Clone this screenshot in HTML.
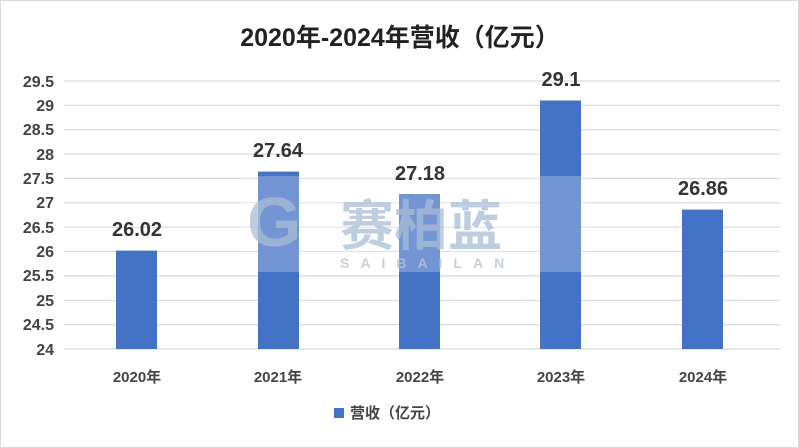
<!DOCTYPE html><html><head><meta charset="utf-8"><style>
body{margin:0;width:799px;height:448px;background:#fff;overflow:hidden;font-family:"Liberation Sans","Noto Sans CJK SC",sans-serif}
</style></head><body>
<svg width="799" height="448" xmlns="http://www.w3.org/2000/svg" style="position:absolute;left:0;top:0">
<rect x="0.5" y="0.5" width="798" height="447" fill="#fff" stroke="#d9d9d9"/>
<text x="400" y="46" text-anchor="middle" font-size="25" font-weight="bold" fill="#222" font-family="Liberation Sans, Noto Sans CJK SC, sans-serif">2020年-2024年营收（亿元）</text>
<g stroke="#d9d9d9" stroke-width="1.2">
<line x1="64" x2="780" y1="81" y2="81"/><line x1="64" x2="780" y1="105.4" y2="105.4"/><line x1="64" x2="780" y1="129.7" y2="129.7"/><line x1="64" x2="780" y1="154.1" y2="154.1"/><line x1="64" x2="780" y1="178.5" y2="178.5"/><line x1="64" x2="780" y1="202.8" y2="202.8"/><line x1="64" x2="780" y1="227.2" y2="227.2"/><line x1="64" x2="780" y1="251.5" y2="251.5"/><line x1="64" x2="780" y1="275.9" y2="275.9"/><line x1="64" x2="780" y1="300.3" y2="300.3"/><line x1="64" x2="780" y1="324.6" y2="324.6"/><line x1="64" x2="780" y1="349" y2="349"/>
</g>
<g font-size="16" font-weight="bold" fill="#444" text-anchor="end" font-family="Liberation Sans, sans-serif">
<text x="54" y="87">29.5</text><text x="54" y="111">29</text><text x="54" y="135">28.5</text><text x="54" y="160">28</text><text x="54" y="184">27.5</text><text x="54" y="208">27</text><text x="54" y="233">26.5</text><text x="54" y="257">26</text><text x="54" y="281">25.5</text><text x="54" y="306">25</text><text x="54" y="330">24.5</text><text x="54" y="355">24</text>
</g>
<g fill="#4472c4">
<rect x="116" y="250.6" width="41" height="98.4"/>
<rect x="258" y="171.6" width="41" height="177.4"/>
<rect x="399" y="194" width="41" height="155"/>
<rect x="540" y="100.5" width="41" height="248.5"/>
<rect x="682" y="209.6" width="41" height="139.4"/>
</g>
<rect x="240" y="176" width="350" height="96" fill="#fff" opacity="0.25"/>
<text x="247" y="246" font-size="70" font-weight="bold" fill="#a9bdd6" opacity="0.75" font-family="Liberation Sans, sans-serif">G</text>
<text x="340" y="245" font-size="54" font-weight="bold" fill="#a9bdd6" opacity="0.75" font-family="Noto Sans CJK SC, sans-serif">赛柏蓝</text>
<text x="340" y="268" font-size="14" font-weight="bold" fill="#b8c4d4" opacity="0.8" letter-spacing="11" font-family="Liberation Sans, sans-serif">SAIBAILAN</text>
<g font-size="20" font-weight="bold" fill="#333" text-anchor="middle" font-family="Liberation Sans, sans-serif">
<text x="137" y="236">26.02</text><text x="278" y="157">27.64</text><text x="420" y="180">27.18</text><text x="561" y="86">29.1</text><text x="703" y="195">26.86</text>
</g>
<g font-size="15" font-weight="bold" fill="#444" text-anchor="middle" font-family="Liberation Sans, Noto Sans CJK SC, sans-serif">
<text x="137" y="382">2020年</text><text x="278" y="382">2021年</text><text x="420" y="382">2022年</text><text x="561" y="382">2023年</text><text x="703" y="382">2024年</text>
</g>
<rect x="334" y="408" width="10" height="10" fill="#4472c4"/>
<text x="350" y="418" font-size="15" font-weight="bold" fill="#444" font-family="Liberation Sans, Noto Sans CJK SC, sans-serif">营收（亿元）</text>
</svg>
</body></html>
